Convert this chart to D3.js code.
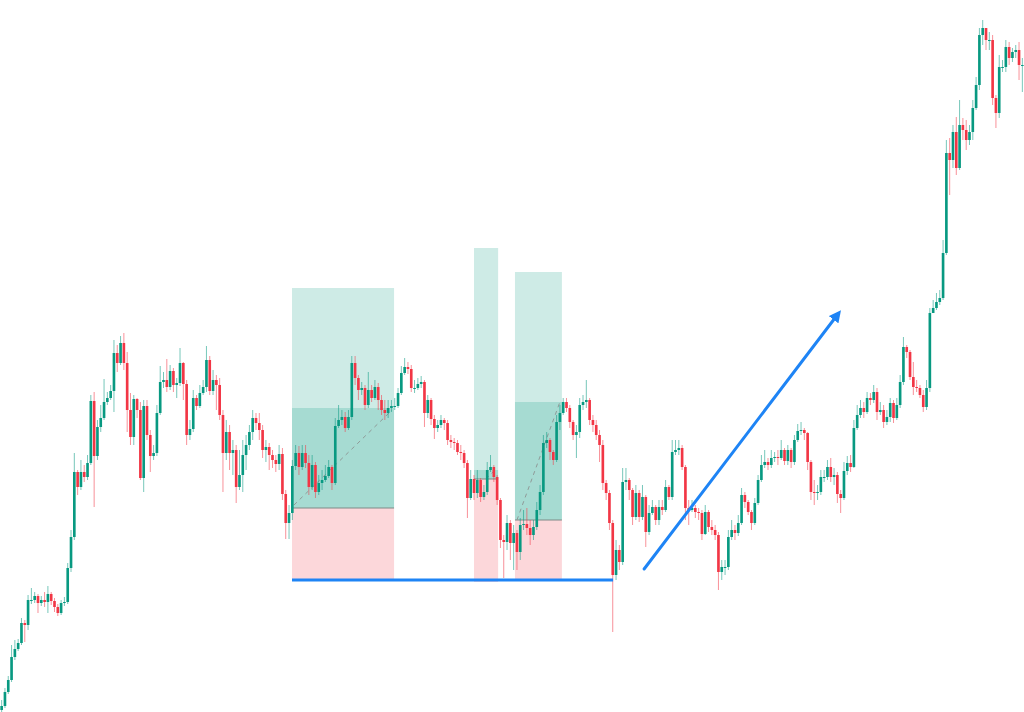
<!DOCTYPE html>
<html>
<head>
<meta charset="utf-8">
<script src="https://cdn.jsdelivr.net/npm/d3@7"></script>
<style>
  html, body { margin: 0; padding: 0; background: #ffffff; }
  svg { display: block; }
</style>
</head>
<body>
<div id="chart"></div>
<script>
// candle data (price units, open = previous close)
const firstOpen = 2;
const closes = [
  6,20,32,55,63,69,89,87,112,112,
  116,109,112,110,118,111,105,99,109,110,
  144,175,240,225,240,235,249,311,256,285,
  294,310,314,321,359,349,369,349,302,275,
  313,302,234,306,277,256,259,299,330,332,
  325,341,327,329,349,328,277,283,314,306,
  319,325,352,321,332,327,297,259,280,259,
  262,225,237,257,267,280,294,289,282,262,
  265,257,252,248,258,218,189,199,246,259,
  245,259,249,225,247,220,229,232,236,245,
  229,286,292,295,284,295,349,334,322,324,
  307,322,314,325,312,302,299,304,306,306,
  319,339,345,343,324,324,328,330,299,312,
  293,284,287,292,289,272,270,269,260,259,
  249,214,233,219,232,215,220,242,245,235,
  212,172,170,189,169,179,160,187,188,184,
  177,185,202,220,269,272,260,252,290,299,
  310,304,290,277,280,307,310,312,292,287,
  277,267,229,219,189,137,162,150,230,232,
  222,195,219,195,215,180,199,205,192,205,
  202,225,215,260,262,264,245,204,202,204,
  200,199,178,200,185,182,177,140,145,145,
  175,182,179,189,217,210,200,189,209,232,
  247,250,247,254,255,254,262,251,262,250,
  272,281,282,279,250,220,219,220,235,235,
  245,235,237,218,214,241,249,245,284,297,
  304,300,314,312,320,300,302,290,295,309,
  294,307,330,365,360,335,325,324,317,305,
  324,399,404,410,414,459,559,552,580,544,
  587,582,572,580,604,627,677,684,672,672,
  614,599,645,645,665,654,660,662,647,647,
  680,670,674
];
const highs = [
  12,24,36,67,72,73,94,92,117,124,
  120,118,116,120,126,120,114,108,112,115,
  149,182,259,242,252,247,257,317,320,292,
  307,333,320,327,372,367,376,379,360,319,
  317,314,310,312,312,282,267,307,346,340,
  353,347,344,334,364,350,332,292,322,317,
  327,332,366,356,342,337,334,302,292,287,
  272,267,262,272,277,287,302,299,299,287,
  272,269,262,257,267,264,222,207,252,267,
  266,267,267,257,257,250,237,242,247,252,
  247,294,307,302,300,302,356,356,337,330,
  327,340,327,332,329,317,312,312,312,314,
  324,346,354,350,347,332,334,336,332,317,
  314,297,292,297,294,292,277,274,272,267,
  262,252,242,237,242,234,227,250,257,247,
  237,214,177,197,192,187,182,194,202,204,
  192,192,210,227,277,280,274,262,297,307,
  314,314,307,292,287,314,317,332,314,297,
  292,282,272,232,222,192,172,167,244,244,
  234,224,227,222,227,217,207,212,207,212,
  212,232,227,272,272,272,267,247,212,212,
  207,204,202,207,202,192,187,180,152,152,
  182,192,187,197,224,220,212,202,214,237,
  257,262,254,262,260,262,272,264,267,264,
  277,288,290,284,280,252,232,227,242,242,
  252,254,244,240,222,250,256,257,292,307,
  312,310,320,319,327,324,310,307,302,314,
  312,314,337,375,367,362,350,332,327,322,
  332,404,412,419,422,472,572,574,587,595,
  612,594,592,587,612,635,684,692,684,680,
  677,617,657,652,672,670,664,667,670,654,
  684,682,680
];
const lows = [
  0,4,18,30,52,61,67,70,82,108,
  109,99,106,105,99,107,100,96,97,106,
  108,140,172,217,222,230,232,247,205,252,
  280,292,307,312,300,340,347,342,280,267,
  267,294,232,220,272,240,252,256,297,324,
  320,322,320,314,326,312,267,272,280,302,
  304,317,320,317,317,302,292,220,252,242,
  237,209,222,220,242,262,272,282,272,254,
  250,242,244,240,242,212,173,173,192,242,
  237,242,244,217,222,214,217,222,230,234,
  222,227,284,287,280,282,292,327,312,317,
  302,304,310,312,302,297,292,294,300,302,
  304,317,337,338,320,319,322,324,285,294,
  287,273,280,284,282,267,264,262,257,252,
  244,194,212,212,214,210,212,217,240,230,
  207,164,134,162,152,142,142,152,182,177,
  167,172,182,197,217,264,252,247,250,282,
  297,300,284,272,254,274,302,304,287,280,
  272,250,222,212,182,80,132,142,147,222,
  212,187,192,190,192,165,177,197,187,187,
  197,200,212,212,257,257,242,192,187,200,
  194,192,172,177,180,177,172,122,132,137,
  142,172,172,176,187,204,197,182,187,207,
  230,244,242,244,250,247,252,247,247,244,
  247,270,277,272,242,212,207,212,217,230,
  232,230,227,209,199,212,237,240,244,282,
  294,294,298,307,309,292,297,284,287,290,
  289,292,304,327,354,332,317,320,314,300,
  302,320,399,402,407,412,457,517,544,537,
  542,572,562,567,572,602,622,667,662,662,
  607,584,594,640,640,647,650,654,632,620,
  640,664,667
];

// trade annotations (x in candle units, y in price)
const positions = [
  {x0: 88.4, x1: 119.3, target: 424, reached: 304, entry: 204, stop: 132, pathFrom: 207, pathTo: 302, p0: 89.0, p1: 118.7},
  {x0: 143.5, x1: 150.8, target: 464, reached: 242, entry: 233, stop: 130, pathFrom: 233, pathTo: 244, p0: 147.1, p1: 150.5},
  {x0: 155.9, x1: 170.1, target: 440, reached: 310, entry: 192, stop: 132, pathFrom: 192, pathTo: 310, p0: 156.5, p1: 169.5}
];
const supportLine = {x0: 88.4, x1: 185.6, price: 132};
const arrowLine = {x0: 195.0, y0: 143, x1: 253.7, y1: 398};
const visibleBars = 310;

const width = 1024;
const height = 712;
const opens = closes.map((c, i) => i ? closes[i - 1] : firstOpen);

const upColor = "#089981";
const downColor = "#f23645";
const blue = "#1e84f5";

const x = d3.scaleLinear().domain([0, visibleBars]).range([0, width]);
const y = d3.scaleLinear().domain([0, 712]).range([height, 0]);
const step = x(1) - x(0);
const bodyW = step * 0.8;

const svg = d3.create("svg")
  .attr("width", width)
  .attr("height", height)
  .attr("viewBox", [0, 0, width, height]);

svg.append("defs").append("marker")
  .attr("id", "arrowhead")
  .attr("viewBox", "0 0 10 10")
  .attr("refX", 6)
  .attr("refY", 5)
  .attr("markerWidth", 4)
  .attr("markerHeight", 4)
  .attr("orient", "auto")
  .append("path")
  .attr("d", "M0,0 L10,5 L0,10 z")
  .attr("fill", blue);

// position boxes
const pos = svg.append("g");
positions.forEach(p => {
  const g = pos.append("g");
  const w = x(p.x1) - x(p.x0);
  g.append("rect")
    .attr("x", x(p.x0)).attr("y", y(p.target))
    .attr("width", w).attr("height", y(p.entry) - y(p.target))
    .attr("fill", "rgba(8,153,129,0.2)");
  g.append("rect")
    .attr("x", x(p.x0)).attr("y", y(p.reached))
    .attr("width", w).attr("height", y(p.entry) - y(p.reached))
    .attr("fill", "rgba(8,153,129,0.2)");
  g.append("rect")
    .attr("x", x(p.x0)).attr("y", y(p.entry))
    .attr("width", w).attr("height", y(p.stop) - y(p.entry))
    .attr("fill", "rgba(242,54,69,0.2)");
  g.append("line")
    .attr("x1", x(p.x0)).attr("x2", x(p.x1))
    .attr("y1", y(p.entry)).attr("y2", y(p.entry))
    .attr("stroke", "#7d8a87").attr("stroke-width", 1);
  g.append("line")
    .attr("x1", x(p.p0)).attr("y1", y(p.pathFrom))
    .attr("x2", x(p.p1)).attr("y2", y(p.pathTo))
    .attr("stroke", "#8f9a98").attr("stroke-width", 1)
    .attr("stroke-dasharray", "4,4");
});

// candles
const candles = svg.append("g")
  .selectAll("g")
  .data(closes.map((c, i) => ({i, o: opens[i], c, h: highs[i], l: lows[i]})))
  .join("g");

candles.append("line")
  .attr("x1", d => x(d.i + 0.5))
  .attr("x2", d => x(d.i + 0.5))
  .attr("y1", d => y(Math.max(d.h, d.o, d.c)))
  .attr("y2", d => y(Math.min(d.l, d.o, d.c)))
  .attr("stroke", d => d.c >= d.o ? upColor : downColor)
  .attr("stroke-opacity", 0.55)
  .attr("stroke-width", 1);

candles.append("rect")
  .attr("x", d => x(d.i + 0.5) - bodyW / 2)
  .attr("width", bodyW)
  .attr("y", d => y(Math.max(d.o, d.c)))
  .attr("height", d => Math.max(1, Math.abs(y(d.o) - y(d.c))))
  .attr("fill", d => d.c >= d.o ? upColor : downColor);

// support line and arrow
svg.append("line")
  .attr("x1", x(supportLine.x0)).attr("x2", x(supportLine.x1))
  .attr("y1", y(supportLine.price)).attr("y2", y(supportLine.price))
  .attr("stroke", blue).attr("stroke-width", 3);

svg.append("line")
  .attr("x1", x(arrowLine.x0)).attr("y1", y(arrowLine.y0))
  .attr("x2", x(arrowLine.x1)).attr("y2", y(arrowLine.y1))
  .attr("stroke", blue).attr("stroke-width", 3)
  .attr("stroke-linecap", "round")
  .attr("marker-end", "url(#arrowhead)");

document.getElementById("chart").append(svg.node());
</script>
</body>
</html>
